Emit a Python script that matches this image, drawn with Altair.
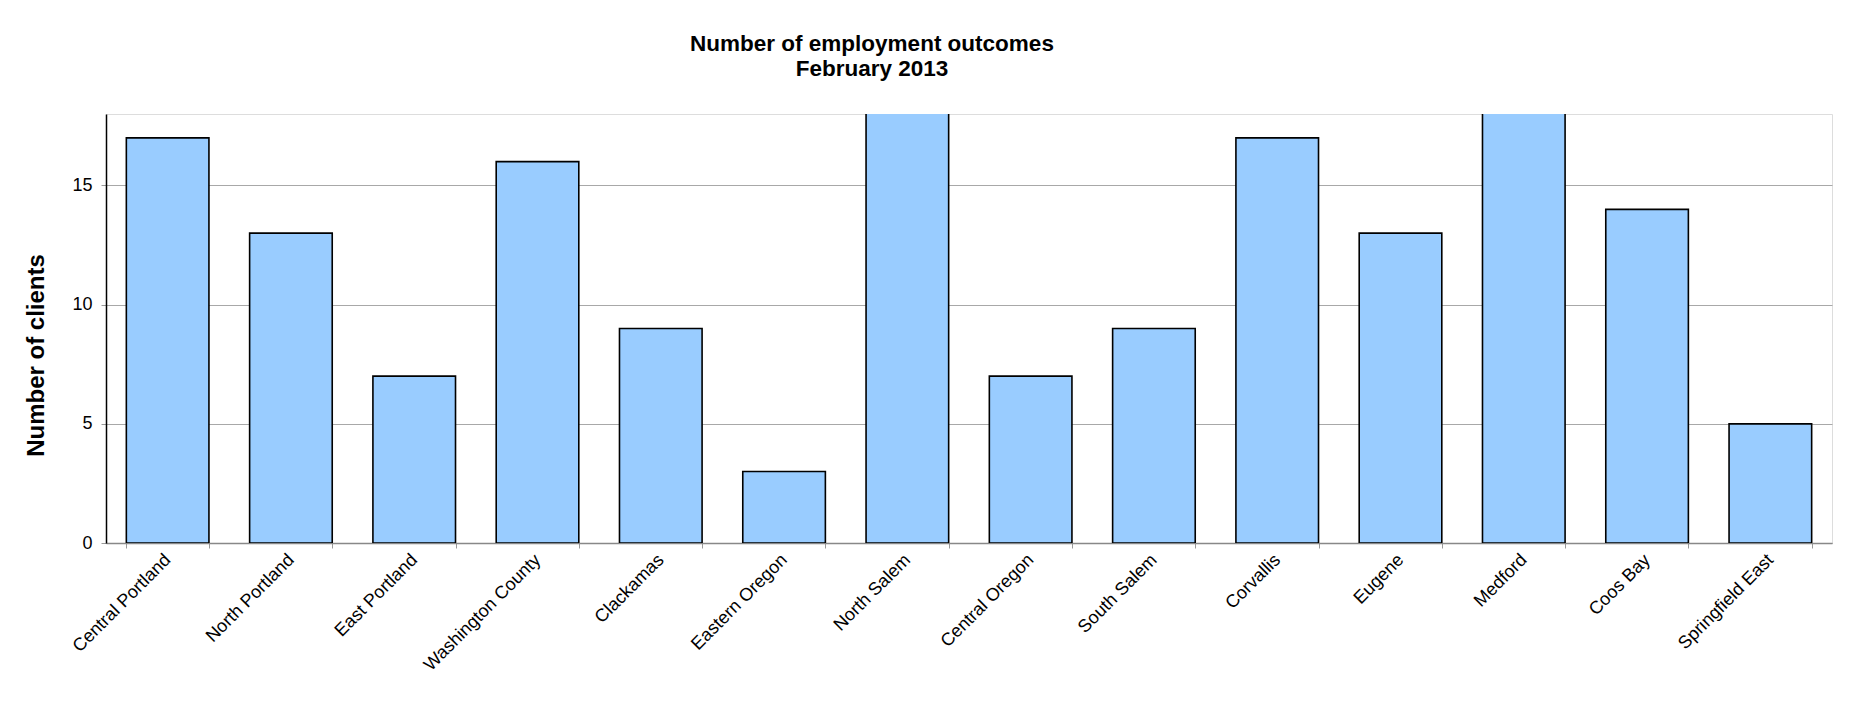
import altair as alt
import pandas as pd

offices = ["Central Portland", "North Portland", "East Portland", "Washington County",
           "Clackamas", "Eastern Oregon", "North Salem", "Central Oregon", "South Salem",
           "Corvallis", "Eugene", "Medford", "Coos Bay", "Springfield East"]
clients = [17, 13, 7, 16, 9, 3, 20, 7, 9, 17, 13, 19, 14, 5]
y_ticks = [0, 5, 10, 15]

df = pd.DataFrame({"office": offices, "clients": clients})

FONT = "Liberation Sans"

bars = alt.Chart(df).mark_bar(
    fill="#99CCFF", stroke="#000000", strokeWidth=1.6, clip=True
).encode(
    x=alt.X("office:N", sort=offices, title=None,
            scale=alt.Scale(paddingInner=0.33, paddingOuter=0.165),
            axis=alt.Axis(labelAngle=-45, labelAlign="right", labelBaseline="middle",
                          labelFont=FONT, labelFontSize=18, labelColor="#000000",
                          labelPadding=9, tickBand="extent", tickExtra=True,
                          tickColor="#999999", tickSize=5, domainColor="#888888",
                          domainWidth=1.5, grid=False, labelOverlap=False)),
    y=alt.Y("clients:Q", title="Number of clients",
            scale=alt.Scale(domain=[0, 18], nice=False),
            axis=alt.Axis(values=y_ticks, labelFont=FONT, labelFontSize=18,
                          labelColor="#000000", labelPadding=9, tickSize=5,
                          tickColor="#999999", domainColor="#000000", domainWidth=1.5,
                          gridColor="#A8A8A8", gridWidth=1,
                          titleFont=FONT, titleFontSize=24, titleFontWeight="bold",
                          titleColor="#000000", titleAngle=-90, titleX=-63, titleY=241,
                          titleAlign="center", titleBaseline="alphabetic")),
)

chart = bars.properties(
    width=1726, height=429,
    title=alt.TitleParams(
        text=["Number of employment outcomes", "February 2013"],
        font=FONT, fontSize=22.5, fontWeight="bold", color="#000000",
        lineHeight=25, anchor="middle", dx=-97, offset=11, baseline="bottom"),
    autosize=alt.AutoSizeParams(type="none"),
    padding={"left": 98, "top": 106, "right": 35, "bottom": 160},
).configure_view(stroke="#888888", strokeWidth=1.5).configure(background="white")

chart.save("out.html", embed_options={"renderer": "svg", "actions": False})
